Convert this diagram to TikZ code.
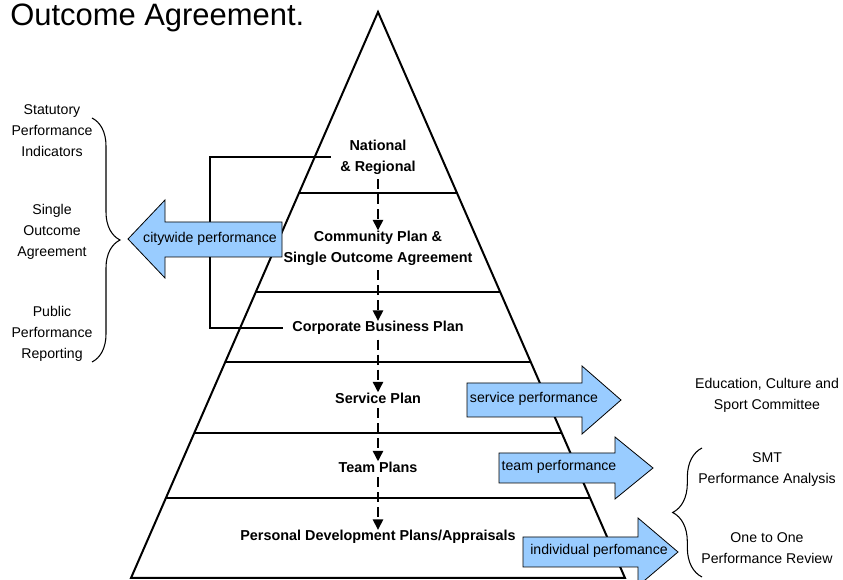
\documentclass[tikz,border=0pt]{standalone}
\usepackage{fontspec}
\setmainfont{Liberation Sans}
\usetikzlibrary{arrows.meta,calc,positioning,decorations.pathreplacing}

\definecolor{arrowblue}{RGB}{153,204,255}

\tikzset{
  plan/.style={font=\fontsize{10.8}{15.75}\selectfont\bfseries, align=center, inner sep=1pt},
  note/.style={font=\fontsize{10.6}{15.75}\selectfont, align=center, inner sep=1pt},
  perf/.style={font=\fontsize{10.6}{12}\selectfont, inner sep=0pt},
  perfarrow/.style={fill=arrowblue, draw=black, line width=0.6pt, line join=miter},
  flow/.style={-{Triangle[width=7.5pt,length=8pt]}, line width=2pt, dash pattern=on 7.5pt off 3.75pt, shorten <=2.5pt, shorten >=-1pt},
  tier/.style={line width=1.1pt},
  curly/.style={decorate, decoration={brace, amplitude=#1}, line width=0.8pt}
}

\begin{document}
\begin{tikzpicture}[x=0.75pt, y=-0.75pt]
	\useasboundingbox (0,0) rectangle (843,580);

	\node[anchor=base west, font=\fontsize{23.2}{27}\selectfont, inner sep=0pt] (title) at (10,26) {Outcome Agreement.};

	% pyramid and its tiers
	\coordinate (apex) at (378,12);
	\coordinate (bl) at (131,578);
	\coordinate (br) at (625,578);
	\begin{scope}
		\clip (apex) -- (bl) -- (br) -- cycle;
		\foreach \y in {193,292,362,433,498}
			\draw[tier] (100,\y) -- (660,\y);
	\end{scope}
	\draw[line width=1.5pt, line join=miter] (apex) -- (bl) -- (br) -- cycle;

	\node[plan] (nat)  at (378,157) {National\\\& Regional};
	\node[plan] (com)  at (378,248) {Community Plan \&\\Single Outcome Agreement};
	\node[plan] (cbp)  at (378,328) {Corporate Business Plan};
	\node[plan] (svc)  at (378,398) {Service Plan};
	\node[plan] (team) at (378,467) {Team Plans};
	\node[plan] (pdp)  at (378,537) {Personal Development Plans/Appraisals};

	\foreach \a/\b in {nat/com,com/cbp,cbp/svc,svc/team,team/pdp}
		\draw[flow] (\a.south) -- (\b.north);

	% link from national to corporate
	\coordinate (loop) at (210,155);
	\draw[line width=0.8pt] ([xshift=-6pt]nat.west) -- (loop |- nat.west) |- ([xshift=-6pt]cbp.west);

	% performance arrows
	\draw[perfarrow] (282,222) -- (165,222) -- (165,200) -- (128,239) -- (165,278) -- (165,257) -- (282,257) -- cycle;
	\node[perf] (city) at (210,239) {citywide performance};

	\draw[perfarrow] (467,383) -- (582,383) -- (582,366) -- (621,400) -- (582,434) -- (582,417) -- (467,417) -- cycle;
	\node[perf] (svcp) at (534,399) {service performance};

	\draw[perfarrow] (499,453) -- (615,453) -- (615,437) -- (653,468) -- (615,499) -- (615,483) -- (499,483) -- cycle;
	\node[perf] (teamp) at (559,467) {team performance};

	\draw[perfarrow] (523,537) -- (638,537) -- (638,518) -- (678,552) -- (638,586) -- (638,567) -- (523,567) -- cycle;
	\node[perf] (indp) at (599,551) {individual perfomance};

	% reporting
	\node[note] (spi) at (52,131) {Statutory\\Performance\\Indicators};
	\node[note] (soa) at (52,232) {Single\\Outcome\\Agreement};
	\node[note] (ppr) at (52,334) {Public\\Performance\\Reporting};
	\draw[curly=21pt] (92,118) -- (92,362);

	\node[note] (ecs) at (767,395) {Education, Culture and\\Sport Committee};
	\node[note] (smt) at (767,470) {SMT\\Performance Analysis};
	\node[note] (oto) at (767,548) {One to One\\Performance Review};
	\draw[curly=22pt] (702,577) -- (702,448);
\end{tikzpicture}
\end{document}
